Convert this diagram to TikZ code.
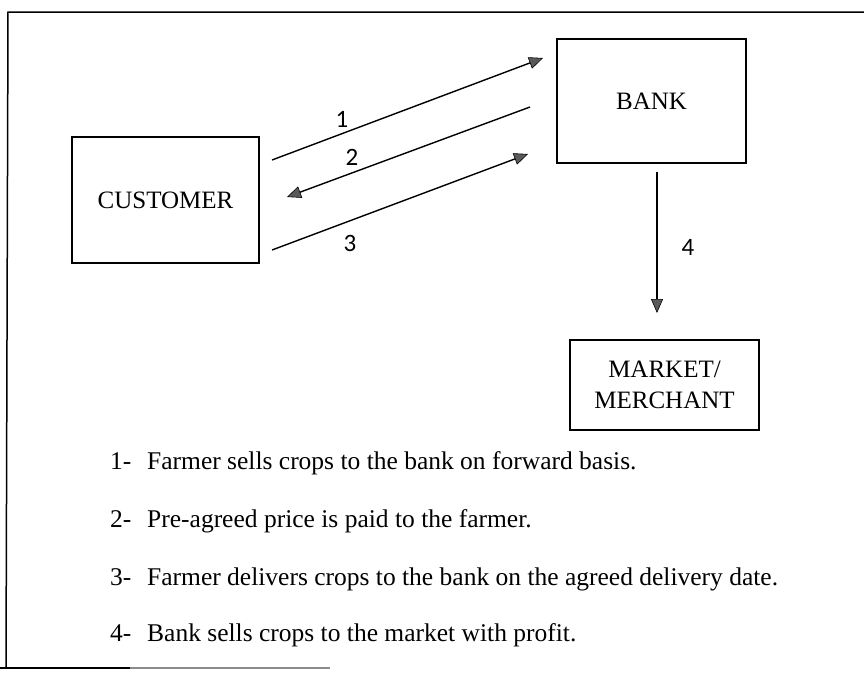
\documentclass[tikz,border=0pt]{standalone}
\usepackage{fontspec}
\setmainfont{Liberation Serif}
\newfontfamily\numfont{Carlito}
\usetikzlibrary{arrows.meta}
\tikzset{
  x=1pt, y=-1pt,
  box/.style={draw=black, line width=1.2pt, minimum width=#1, inner sep=0pt, font=\fontsize{25}{31}\selectfont, align=center},
  conn/.style={line width=1.4pt, -{Triangle[length=14pt,width=12pt,fill=black!65,line width=0.6pt]}},
  num/.style={font=\numfont\fontsize{25}{28}\selectfont, inner sep=0pt},
  item/.style={font=\fontsize{25.5}{30}\selectfont, anchor=base west, inner sep=0pt},
  frame/.style={line width=1.5pt}
}
\begin{document}
\begin{tikzpicture}
\useasboundingbox (0,0) rectangle (864,673);
% frame
\coordinate (f0) at (130,668);
\coordinate (f1) at (330,668);
\coordinate (f2) at (0,668);
\coordinate (f3) at (6,668);
\coordinate (f4) at (8,12);
\coordinate (f5) at (864,12);
\draw[frame] (f2) -- (f0);
\draw[frame, black!45] (f0) -- (f1);
\draw[frame] (f3) -- (f4) -- (f5);
% boxes
\node[box=187pt, minimum height=126pt] (cust) at (165.5,200) {CUSTOMER};
\node[box=189pt, minimum height=124pt] (bank) at (651.5,101) {BANK};
\node[box=189pt, minimum height=90pt] (mkt) at (664.5,385) {MARKET/\\MERCHANT};
% arrow endpoints
\coordinate (a1s) at (272,160);
\coordinate (a1e) at (543,58);
\coordinate (a2s) at (530,107);
\coordinate (a2e) at (287,197);
\coordinate (a3s) at (272,250);
\coordinate (a3e) at (528,154);
\coordinate (a4s) at (657,172);
\coordinate (a4e) at (657,313);
\draw[conn] (a1s) -- (a1e);
\draw[conn] (a2s) -- (a2e);
\draw[conn] (a3s) -- (a3e);
\draw[conn] (a4s) -- (a4e);
\node[num] (n1) at (342,119) {1};
\node[num] (n2) at (352,157) {2};
\node[num] (n3) at (350,243) {3};
\node[num] (n4) at (688,247) {4};
% list
\node[item] (i1n) at (110,469) {1-};
\node[item] (i1t) at (147,469) {Farmer sells crops to the bank on forward basis.};
\node[item] (i2n) at (110,527) {2-};
\node[item] (i2t) at (147,527) {Pre-agreed price is paid to the farmer.};
\node[item] (i3n) at (110,585) {3-};
\node[item] (i3t) at (147,585) {Farmer delivers crops to the bank on the agreed delivery date.};
\node[item] (i4n) at (110,641) {4-};
\node[item] (i4t) at (147,641) {Bank sells crops to the market with profit.};
\end{tikzpicture}
\end{document}
